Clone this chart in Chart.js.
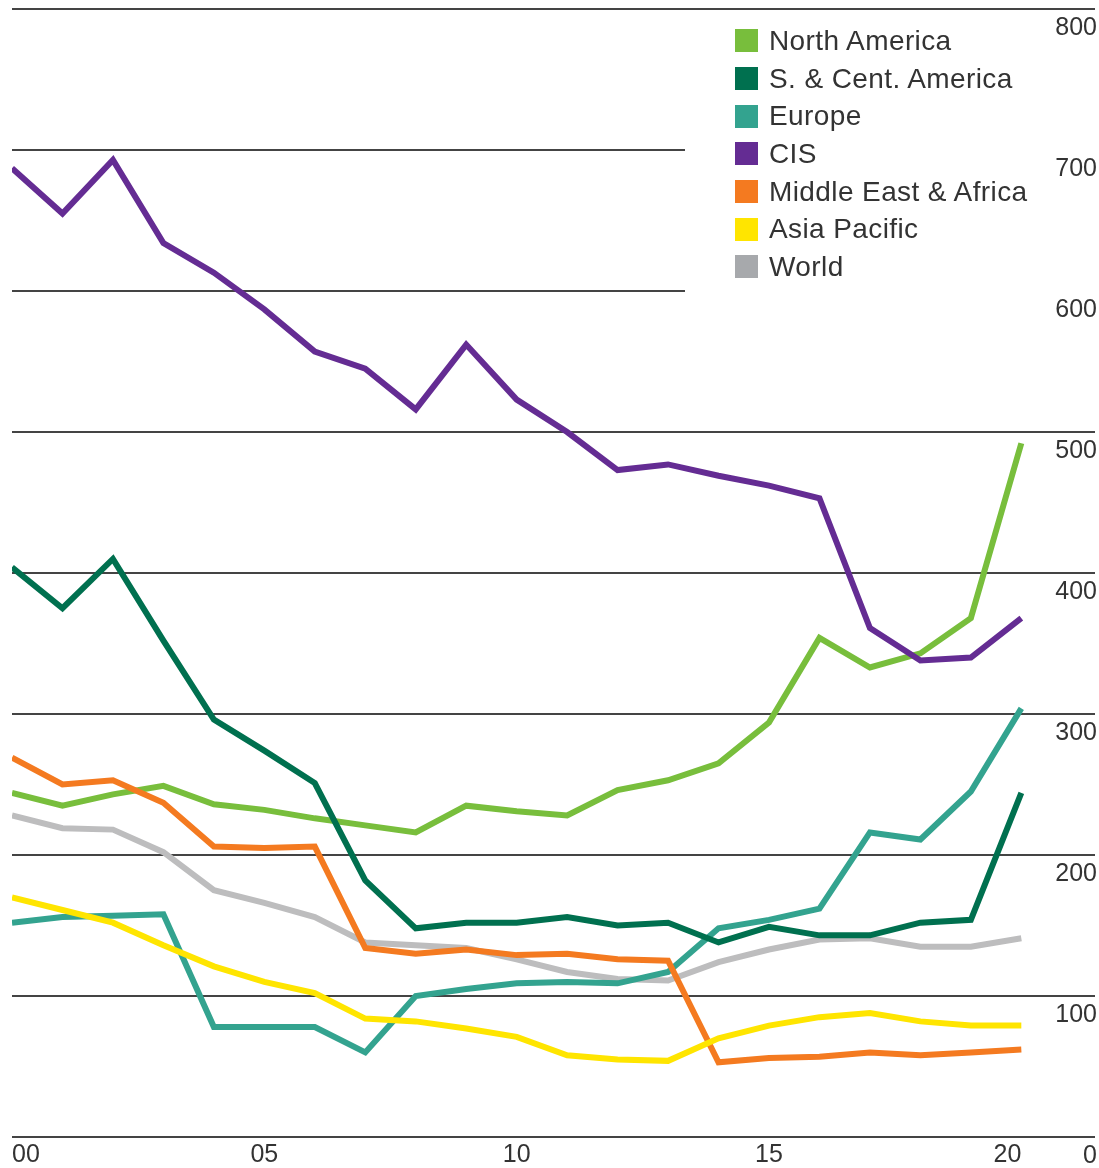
<!DOCTYPE html>
<html>
<head>
<meta charset="utf-8">
<script src="https://cdn.jsdelivr.net/npm/chart.js@4.4.1/dist/chart.umd.min.js"></script>
<style>
  html, body { margin: 0; padding: 0; background: #fff; }
  #wrap { position: relative; width: 1099px; height: 1168px; }
  #leyenda {
    position: absolute; left: 735px; top: 22px;
    font-family: 'Liberation Sans', Arial, sans-serif; font-size: 28px; letter-spacing: 0.4px; color: #333;
  }
  #leyenda div { height: 37.7px; display: flex; align-items: center; white-space: nowrap; }
  #leyenda span.caja { display: inline-block; width: 23px; height: 23px; margin-right: 11px; }
</style>
</head>
<body>
<div id="wrap">
  <canvas id="graph" width="1099" height="1168"></canvas>
  <div id="leyenda"></div>
</div>
<script>
// Años 2000-2020
const years = [0, 1, 2, 3, 4, 5, 6, 7, 8, 9, 10, 11, 12, 13, 14, 15, 16, 17, 18, 19, 20];
const xTicks = [0, 5, 10, 15, 20];
const yTicks = [0, 100, 200, 300, 400, 500, 600, 700, 800];

const northAmerica = [244, 235, 243, 249, 236, 232, 226, 221, 216, 235, 231, 228, 246, 253, 265, 294, 354, 333, 343, 368, 492];
const southCentAmerica = [404, 375, 410, 352, 296, 274, 251, 182, 148, 152, 152, 156, 150, 152, 138, 149, 143, 143, 152, 154, 244];
const europe = [152, 156, 157, 158, 78, 78, 78, 60, 100, 105, 109, 110, 109, 117, 148, 154, 162, 216, 211, 245, 304];
const cis = [687, 655, 693, 634, 613, 587, 557, 545, 516, 562, 523, 500, 473, 477, 469, 462, 453, 361, 338, 340, 368];
const middleEastAfrica = [269, 250, 253, 237, 206, 205, 206, 134, 130, 133, 129, 130, 126, 125, 53, 56, 57, 60, 58, 60, 62];
const asiaPacific = [170, 161, 152, 136, 121, 110, 102, 84, 82, 77, 71, 58, 55, 54, 70, 79, 85, 88, 82, 79, 79];
const world = [228, 219, 218, 202, 175, 166, 156, 138, 136, 134, 126, 117, 112, 111, 124, 133, 140, 141, 135, 135, 141];

const nombres = ['North America', 'S. & Cent. America', 'Europe', 'CIS', 'Middle East & Africa', 'Asia Pacific', 'World'];
const series = [northAmerica, southCentAmerica, europe, cis, middleEastAfrica, asiaPacific, world];
const colores = ['#78be3c', '#00704f', '#33a38f', '#642c93', '#f47a20', '#ffe500', '#bdbdbe'];
const coloresLeyenda = ['#78be3c', '#00704f', '#33a38f', '#642c93', '#f47a20', '#ffe500', '#a7a9ac'];
// orden de dibujo: menor = encima
const ordenDibujo = [5, 2, 4, 1, 3, 0, 6];

// Tapa las líneas de la cuadrícula detrás de la leyenda
const tapaLeyenda = {
  id: 'tapaLeyenda',
  beforeDatasetsDraw(chart) {
    const y = chart.scales.y;
    const ctx = chart.ctx;
    ctx.save();
    ctx.fillStyle = '#fff';
    ctx.fillRect(685, y.getPixelForValue(780), chart.chartArea.right - 685 + 2, y.getPixelForValue(560) - y.getPixelForValue(780));
    ctx.restore();
  }
};

function graficar() {
  const ctx = document.getElementById('graph').getContext('2d');
  const datasets = series.map((s, i) => ({
    label: nombres[i],
    data: s.map((v, j) => ({ x: years[j], y: v })),
    borderColor: colores[i],
    backgroundColor: colores[i],
    borderWidth: 6,
    pointRadius: 0,
    tension: 0,
    fill: false,
    order: ordenDibujo[i],
    borderJoinStyle: 'miter'
  }));

  window.miGrafica = new Chart(ctx, {
    type: 'line',
    data: { datasets },
    plugins: [tapaLeyenda],
    options: {
      responsive: false,
      animation: false,
      devicePixelRatio: 1,
      layout: { padding: { left: 12, right: 0, top: 9, bottom: -6 } },
      plugins: { legend: { display: false }, tooltip: { enabled: false } },
      scales: {
        x: {
          type: 'linear',
          min: 0,
          max: 21.46,
          grid: { display: false, drawTicks: false },
          border: { display: false },
          afterBuildTicks: (axis) => { axis.ticks = xTicks.map(v => ({ value: v })); },
          ticks: {
            align: 'inner',
            padding: 6,
            maxRotation: 0,
            autoSkip: false,
            color: '#333',
            font: { family: 'Liberation Sans', size: 25, lineHeight: 1 },
            callback: (v) => String(v).padStart(2, '0')
          }
        },
        y: {
          position: 'right',
          min: 0,
          max: 800,
          afterBuildTicks: (axis) => { axis.ticks = yTicks.map(v => ({ value: v })); },
          grid: { color: '#444', lineWidth: 2, drawTicks: false },
          border: { display: false },
          ticks: {
            mirror: true,
            padding: 2,
            labelOffset: 19,
            z: 1,
            color: '#333',
            font: { family: 'Liberation Sans', size: 25, lineHeight: 0.5 }
          }
        }
      }
    }
  });
}

function mostrarLeyenda() {
  let html = '';
  nombres.forEach((n, i) => {
    html += `<div><span class="caja" style="background:${coloresLeyenda[i]}"></span>${n}</div>`;
  });
  document.getElementById('leyenda').innerHTML = html;
}

mostrarLeyenda();
graficar();
</script>
</body>
</html>
